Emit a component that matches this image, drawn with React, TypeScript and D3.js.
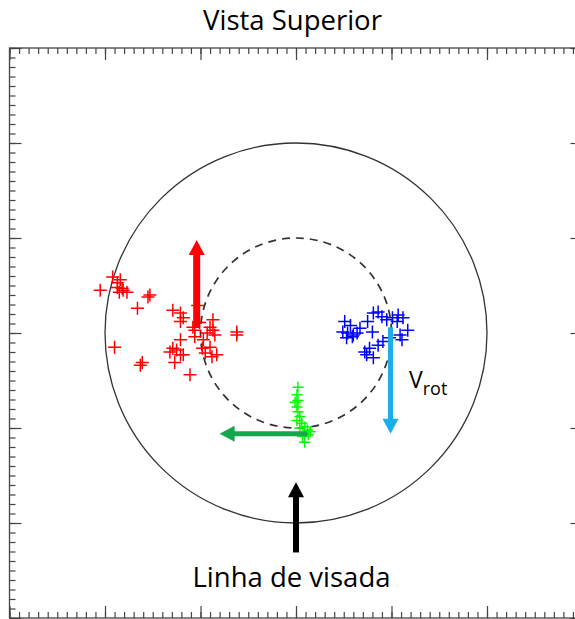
import React, { useEffect, useRef } from 'react';
import * as d3 from 'd3';

// Observed points, in units of the plot (centre of the circles = 0,0)
const redX = [-2.05, -1.92, -1.87, -1.84, -1.82, -1.85, -1.81, -1.77, -1.87, -1.53, -1.55, -1.66, -1.9, -1.61, -1.63, -1.11, -1.29, -1.21, -1.18, -1.21, -1.03, -1.06, -1.06, -1.21, -1.29, -1.25, -1.32, -1.21, -1.27, -1.18, -0.87, -0.9, -0.87, -0.85, -0.93, -0.97, -0.98, -0.9, -0.83, -0.88, -0.95, -0.62, -0.62, -1.01, -1.08];
const redY = [0.45, 0.59, 0.53, 0.56, 0.47, 0.43, 0.45, 0.43, 0.48, 0.4, 0.38, 0.26, -0.15, -0.31, -0.34, -0.44, 0.24, 0.21, 0.16, 0.12, 0.29, 0.03, -0.04, -0.07, -0.16, -0.18, -0.2, -0.23, -0.31, -0.23, 0.14, 0.06, 0.03, -0.02, 0.0, -0.07, -0.16, -0.15, -0.23, -0.25, -0.21, 0.01, -0.02, 0.11, 0.06];
const blueX = [0.51, 0.57, 0.49, 0.54, 0.59, 0.6, 0.53, 0.64, 0.8, 0.75, 0.81, 0.86, 0.9, 0.95, 1.01, 1.07, 1.12, 1.06, 1.17, 1.09, 0.98, 0.91, 0.86, 0.77, 0.72, 0.81, 0.74, 1.11, 0.67];
const blueY = [0.12, 0.08, 0.01, 0.0, -0.04, -0.02, -0.05, 0.0, 0.01, 0.12, 0.21, 0.22, 0.17, 0.14, 0.16, 0.19, 0.16, 0.12, 0.03, -0.02, -0.05, -0.09, -0.13, -0.16, -0.2, -0.26, -0.23, -0.07, 0.05];
const greenX = [0.02, 0.01, -0.01, 0.01, 0.02, 0.04, 0.01, 0.06, 0.09, 0.12, 0.13, 0.07, 0.09, 0.04, 0.15, 0.02];
const greenY = [-0.57, -0.65, -0.73, -0.78, -0.83, -0.88, -0.92, -0.95, -0.99, -1.02, -1.07, -1.09, -1.15, -1.0, -1.04, -0.71];

// arrows: tail -> tip, in plot units
const arrows = [
  { from: [-1.04, 0.06], to: [-1.04, 0.98], color: '#ff0000', w: 7 },
  { from: [0.99, 0.06], to: [0.99, -1.06], color: '#1aaeea', w: 5 },
  { from: [0.12, -1.06], to: [-0.8, -1.06], color: '#16a64c', w: 5 },
  { from: [0, -2.31], to: [0, -1.57], color: '#000000', w: 6 },
];

const circleRadii = [2, 1];

const App = () => {
  const svgRef = useRef(null);

  useEffect(() => {
    const svg = d3.select(svgRef.current);
    svg.selectAll('*').remove();

    const margin = { left: 9.5, top: 48 };
    const plotW = 573;
    const plotH = 570;

    const x = d3.scaleLinear().domain([-3, 3]).range([margin.left, margin.left + plotW]);
    const y = d3.scaleLinear().domain([-3, 3]).range([margin.top + plotH, margin.top]);

    const majors = d3.range(-3, 3.001, 1);
    const minors = d3.range(-30, 31).map(d => d / 10);

    const axisColor = '#444';
    const addAxis = (axisFn, scale, transform, values, size) => {
      const g = svg.append('g')
        .attr('transform', transform)
        .call(axisFn(scale).tickValues(values).tickSize(-size).tickSizeOuter(0).tickFormat(''));
      g.select('.domain').remove();
      g.selectAll('line').attr('stroke', axisColor).attr('stroke-width', 1.2);
    };
    [[minors, 6], [majors, 12]].forEach(([vals, sz]) => {
      addAxis(d3.axisTop, x, `translate(0,${y(3)})`, vals, sz);
      addAxis(d3.axisBottom, x, `translate(0,${y(-3)})`, vals, sz);
      addAxis(d3.axisLeft, y, `translate(${x(-3)},0)`, vals, sz);
      addAxis(d3.axisRight, y, `translate(${x(3)},0)`, vals, sz);
    });

    svg.append('rect')
      .attr('x', x(-3)).attr('y', y(3))
      .attr('width', x(3) - x(-3)).attr('height', y(-3) - y(3))
      .attr('fill', 'none').attr('stroke', axisColor).attr('stroke-width', 1.3);

    // circles
    svg.append('ellipse')
      .attr('cx', x(0)).attr('cy', y(0))
      .attr('rx', x(circleRadii[0]) - x(0)).attr('ry', y(0) - y(circleRadii[0]))
      .attr('fill', 'none').attr('stroke', '#333').attr('stroke-width', 1.3);
    svg.append('ellipse')
      .attr('cx', x(0)).attr('cy', y(0))
      .attr('rx', x(circleRadii[1]) - x(0)).attr('ry', y(0) - y(circleRadii[1]))
      .attr('fill', 'none').attr('stroke', '#333').attr('stroke-width', 1.7)
      .attr('stroke-dasharray', '8,6');

    // plus markers
    const plus = (xs, ys, color, half) => {
      const g = svg.append('g').attr('stroke', color).attr('stroke-width', 1.5).attr('fill', 'none');
      g.selectAll('path')
        .data(xs.map((d, i) => [d, ys[i]]))
        .join('path')
        .attr('d', d => {
          const px = x(d[0]);
          const py = y(d[1]);
          return `M${px - half},${py}H${px + half}M${px},${py - half}V${py + half}`;
        });
    };
    plus(redX, redY, '#ff0000', 6.5);
    plus(blueX, blueY, '#0000ff', 6.5);
    plus(greenX, greenY, '#00ff00', 5.5);

    // arrows
    const headLen = 15;
    const headHalf = 8;
    arrows.forEach(a => {
      const x0 = x(a.from[0]);
      const y0 = y(a.from[1]);
      const x1 = x(a.to[0]);
      const y1 = y(a.to[1]);
      const len = Math.hypot(x1 - x0, y1 - y0);
      const ux = (x1 - x0) / len;
      const uy = (y1 - y0) / len;
      const bx = x1 - ux * headLen;
      const by = y1 - uy * headLen;
      svg.append('line')
        .attr('x1', x0).attr('y1', y0).attr('x2', bx + ux).attr('y2', by + uy)
        .attr('stroke', a.color).attr('stroke-width', a.w);
      svg.append('path')
        .attr('d', `M${x1},${y1}L${bx - uy * headHalf},${by + ux * headHalf}L${bx + uy * headHalf},${by - ux * headHalf}Z`)
        .attr('fill', a.color);
    });

    const font = '"Open Sans", Lato, sans-serif';
    svg.append('text')
      .attr('x', 292.5).attr('y', 30)
      .attr('text-anchor', 'middle')
      .style('font-family', font).style('font-size', '27.5px').attr('fill', '#000')
      .text('Vista Superior');

    svg.append('text')
      .attr('x', 291.5).attr('y', 587)
      .attr('text-anchor', 'middle')
      .style('font-family', font).style('font-size', '27.5px').attr('fill', '#000')
      .text('Linha de visada');

    const vrot = svg.append('text')
      .attr('x', 409).attr('y', 388)
      .style('font-family', font).style('font-size', '23px').attr('fill', '#000');
    vrot.append('tspan').text('V');
    vrot.append('tspan').attr('dy', 7).style('font-size', '18px').text('rot');
  }, []);

  return (
    <svg ref={svgRef} width={575} height={619}
      style={{ position: 'absolute', left: 0, top: 0, background: '#fff' }} />
  );
};

export default App;
